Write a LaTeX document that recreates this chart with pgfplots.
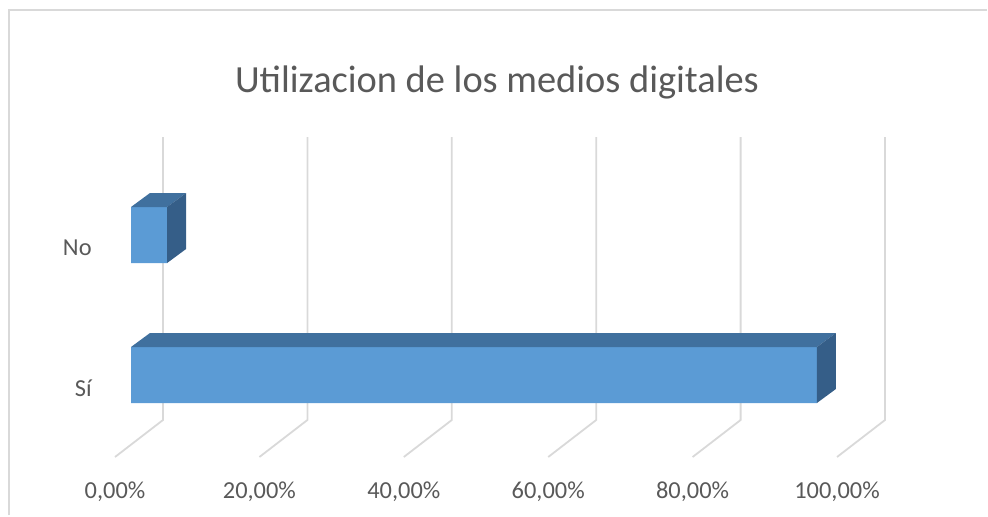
\documentclass[border=0pt]{standalone}
\usepackage{pgfplots}
\pgfplotsset{compat=1.18}
\usepackage{pgfplotstable}
\usepackage{fontspec}
\setmainfont{Carlito}
\definecolor{barfront}{RGB}{91,155,213}
\definecolor{bartop}{RGB}{64,112,158}
\definecolor{barside}{RGB}{53,94,136}
\definecolor{gridc}{RGB}{217,217,217}
\definecolor{txt}{RGB}{89,89,89}
\pgfplotstableread{
cat ypos val
Si 140 95
No 280 5
}\datatable
\begin{document}
\begin{tikzpicture}
\begin{axis}[
  scale only axis, width=494pt, height=257.5pt,
  xmin=-18.144, xmax=118.698, ymin=0, ymax=515,
  axis lines=none, clip=false,
]
\path (rel axis cs:0,0) rectangle (rel axis cs:1,1);
% chart border
\draw[gridc, line width=1pt] (axis cs:-16.9,0) -- (axis cs:-16.9,505) -- (axis cs:118.5,505);
% 3D gridlines
\addplot[gridc, line width=0.9pt, mark=none, forget plot] coordinates {(-2.216,58) (4.432,95) (4.432,378)};
\addplot[gridc, line width=0.9pt, mark=none, forget plot] coordinates {(17.784,58) (24.432,95) (24.432,378)};
\addplot[gridc, line width=0.9pt, mark=none, forget plot] coordinates {(37.784,58) (44.432,95) (44.432,378)};
\addplot[gridc, line width=0.9pt, mark=none, forget plot] coordinates {(57.784,58) (64.432,95) (64.432,378)};
\addplot[gridc, line width=0.9pt, mark=none, forget plot] coordinates {(77.784,58) (84.432,95) (84.432,378)};
\addplot[gridc, line width=0.9pt, mark=none, forget plot] coordinates {(97.784,58) (104.432,95) (104.432,378)};
% front faces
\addplot[xbar, bar width=56, fill=barfront, draw=none, forget plot] table[x=val, y=ypos] {\datatable};
% top and side faces
\addplot[fill=bartop, draw=none, forget plot, mark=none] coordinates {(0,168) (95,168) (97.63,182) (2.63,182)} -- cycle;
\addplot[fill=barside, draw=none, forget plot, mark=none] coordinates {(95,112) (95,168) (97.63,182) (97.63,126)} -- cycle;
\addplot[fill=bartop, draw=none, forget plot, mark=none] coordinates {(0,308) (5,308) (7.63,322) (2.63,322)} -- cycle;
\addplot[fill=barside, draw=none, forget plot, mark=none] coordinates {(5,252) (5,308) (7.63,322) (7.63,266)} -- cycle;
% tick labels
\node[txt, font=\fontsize{12.2pt}{14pt}\selectfont] at (axis cs:-2.216,23) {0,00\%};
\node[txt, font=\fontsize{12.2pt}{14pt}\selectfont] at (axis cs:17.784,23) {20,00\%};
\node[txt, font=\fontsize{12.2pt}{14pt}\selectfont] at (axis cs:37.784,23) {40,00\%};
\node[txt, font=\fontsize{12.2pt}{14pt}\selectfont] at (axis cs:57.784,23) {60,00\%};
\node[txt, font=\fontsize{12.2pt}{14pt}\selectfont] at (axis cs:77.784,23) {80,00\%};
\node[txt, font=\fontsize{12.2pt}{14pt}\selectfont] at (axis cs:97.784,23) {100,00\%};
\node[txt, anchor=east, inner sep=0pt, font=\fontsize{12.2pt}{14pt}\selectfont] at (axis cs:-5.4,267) {No};
\node[txt, anchor=east, inner sep=0pt, font=\fontsize{12.2pt}{14pt}\selectfont] at (axis cs:-5.4,127) {Sí};
\node[txt, font=\fontsize{19.2pt}{22pt}\selectfont] at (axis cs:50.69,433) {Utilizacion de los medios digitales};
\end{axis}
\end{tikzpicture}
\end{document}
